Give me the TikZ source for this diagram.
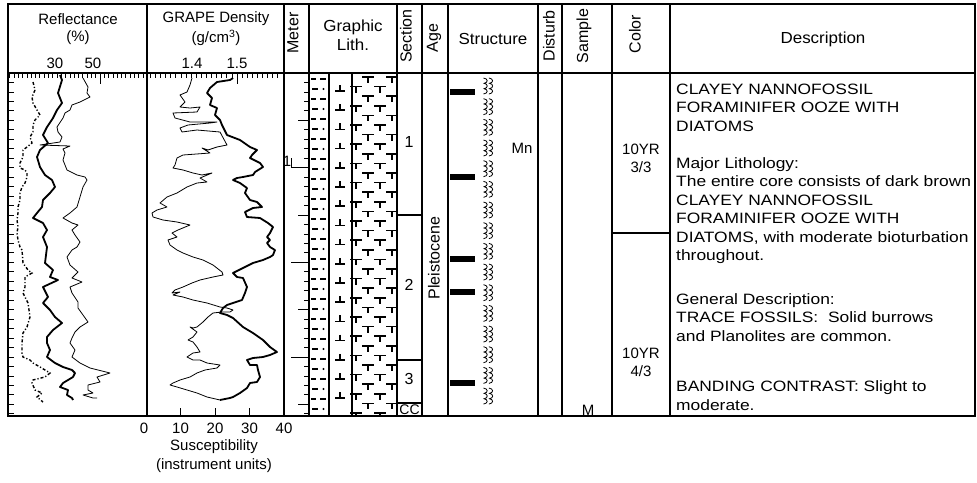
\documentclass[tikz,border=0pt]{standalone}
\usepackage{fontspec}
\setmainfont{Liberation Sans}
\newfontfamily\widefont{Liberation Sans}[FakeStretch=1.16]
\newfontfamily\hdfont{Liberation Sans}[FakeStretch=1.06]
\begin{document}
\begin{tikzpicture}[x=1pt,y=-1pt,
  txt/.style={inner sep=0pt, font=\fontsize{15}{18}\selectfont},
  hd/.style={inner sep=0pt, font=\hdfont\fontsize{16}{19}\selectfont},
  vhd/.style={inner sep=0pt, rotate=90, font=\fontsize{16}{19}\selectfont},
  desc/.style={inner sep=0pt, anchor=base west, font=\widefont\fontsize{15}{18}\selectfont},
  frame/.style={line width=1.1pt},
  hair/.style={line width=0.8pt},
  cthick/.style={line width=1.8pt, line join=round},
  cthin/.style={line width=0.8pt, line join=round},
  cdash/.style={line width=1.4pt, dash pattern=on 3pt off 2pt on 1.2pt off 2pt},
  tmark/.style={line width=1.5pt},
  biot/.pic={
    \foreach \dx in {-2.7,2.7}{
      \draw[line width=0.8pt] ({\dx-1.8},-8) .. controls ({\dx+3},-7.5) and ({\dx+3},-3.2) .. ({\dx-1.2},-2.7)
        .. controls ({\dx+3},-2.1) and ({\dx+3},2.1) .. ({\dx-1.2},2.7)
        .. controls ({\dx+3},3.2) and ({\dx+3},7.5) .. ({\dx-1.8},8);
    }
  }
]
\useasboundingbox (0,0) rectangle (977,482);
\fill[white] (0,0) rectangle (977,482);

% ---------- lithology pattern ----------
\begin{scope}
  \clip (309,73) rectangle (397,416);
  % clay dashes
  \foreach \k in {0,...,33}{
    \pgfmathsetmacro{\yy}{79+10*\k}
    \ifodd\k
      \draw[tmark] (312,\yy) -- (317.5,\yy);
      \fill (323.5,\yy) circle (1.1);
    \else
      \draw[tmark] (311,\yy) -- (316,\yy);
      \draw[tmark] (320,\yy) -- (326,\yy);
    \fi
  }
  % foraminifer T's
  \foreach \k in {0,...,35}{
    \pgfmathsetmacro{\yy}{77+9.6*\k}
    \ifodd\k
      \foreach \cx in {356,380}{\draw[tmark] (\cx-6,\yy) -- (\cx+6,\yy) (\cx,\yy) -- (\cx,\yy+6);}
    \else
      \foreach \cx in {368,392}{\draw[tmark] (\cx-6,\yy) -- (\cx+6,\yy) (\cx,\yy) -- (\cx,\yy+6);}
    \fi
  }
  % nannofossil inverted T's
  \foreach \k in {0,...,16}{
    \pgfmathsetmacro{\yy}{88+19.2*\k}
    \draw[tmark] (335,\yy+3) -- (345,\yy+3) (340,\yy-3) -- (340,\yy+3);
  }
\end{scope}
\draw[line width=1.2pt] (329,73) -- (329,416) (352,73) -- (352,416);

% ---------- frame ----------
\draw[frame] (8,4) rectangle (975,416);
\draw[frame] (8,73) -- (975,73);
\foreach \x in {147,284,309,397,422,448,538,562,612,670}{\draw[frame] (\x,4) -- (\x,416);}
\draw[frame] (397,215) -- (422,215) (397,360) -- (422,360) (397,403) -- (422,403);
\draw[frame] (612,233) -- (670,233);

% ---------- ticks ----------
\foreach \i in {-21,...,10}{\draw[hair] ({100+4.3*\i},73) -- ++(0,5);}
\draw[hair] (100,73) -- (100,84);
\foreach \i in {-7,...,19}{\draw[hair] ({186+5.1*\i},73) -- ++(0,5);}
\draw[hair] (237,73) -- (237,84);
\foreach \k in {1,...,36}{\draw[hair] (8,{73+9.467*\k}) -- ++(6,0);}
\foreach \k in {1,...,36}{\draw[hair] (304,{73+9.467*\k}) -- (309,{73+9.467*\k});}
\foreach \k in {5,15,25,35}{\draw[hair] (298,{73+9.467*\k}) -- (309,{73+9.467*\k});}
\foreach \k in {10,20,30}{\draw[hair] (291,{73+9.467*\k}) -- (309,{73+9.467*\k});}
\draw[hair] (291,158) -- (291,167.7);
\foreach \x in {180.5,215,249.5}{\draw[hair] (\x,408) -- (\x,416);}

% ---------- reflectance curves ----------
\draw[cdash] plot coordinates {(33,82) (35,90) (32,97) (33,103) (37,110) (40,115) (35,120) (33,125) (33,132) (30,137) (32,143) (27,147) (23,150) (23,157) (20,163) (20,168) (25,170) (27,173) (27,177) (25,183) (22,187) (20,193) (20,200) (18,207) (18,213) (17,220) (18,227) (17,233) (18,240) (20,247) (22,250) (23,263) (28,270) (32,273) (25,277) (25,287) (23,293) (28,303) (30,317) (27,327) (23,333) (22,343) (22,353) (23,357) (30,360) (33,363) (40,367) (45,370) (50,373) (45,377) (33,380) (32,383) (35,390) (42,393) (37,397) (43,402)};
\draw[cthick] plot coordinates {(60,75) (62,80) (58,93) (62,103) (57,110) (53,118) (47,127) (43,135) (48,143) (40,150) (37,157) (40,167) (45,175) (52,180) (55,187) (50,193) (43,200) (42,207) (37,213) (33,218) (43,223) (47,230) (43,237) (47,247) (45,263) (53,270) (50,277) (58,280) (43,287) (48,297) (43,303) (50,310) (55,317) (62,323) (53,330) (47,337) (47,343) (50,350) (47,357) (55,363) (63,367) (72,370) (75,373) (73,377) (63,383) (60,387) (68,390) (67,395) (72,398) (73,400)};
\draw[cthin] plot coordinates {(83,78) (88,87) (87,93) (90,97) (80,102) (72,105) (70,110) (65,113) (63,118) (57,127) (58,132) (62,137) (60,142) (40,145) (70,146) (63,149) (65,153) (63,160) (67,170) (77,175) (85,177) (87,180) (83,187) (80,197) (77,207) (70,213) (63,218) (72,223) (78,225) (72,230) (75,235) (80,242) (77,247) (72,250) (67,257) (70,265) (78,272) (72,278) (82,282) (70,287) (72,293) (78,302) (78,308) (83,315) (88,322) (80,327) (75,332) (72,338) (70,343) (75,350) (72,357) (80,363) (90,368) (110,373) (97,377) (100,382) (88,385) (88,390) (93,393) (83,395) (93,398) (97,398)};

% ---------- GRAPE / susceptibility curves ----------
\draw[cthin] plot coordinates {(192,78) (190,85) (187,92) (180,95) (185,102) (180,107) (190,108) (200,107) (197,112) (173,113) (175,118) (190,122) (217,122) (210,123) (188,125) (180,128) (182,132) (197,130) (220,132) (227,145) (217,147) (208,150) (202,148) (210,153) (183,155) (177,158) (175,165) (173,168) (183,170) (193,173) (202,175) (212,173) (200,178) (207,182) (197,183) (187,187) (177,193) (167,197) (160,203) (167,207) (157,210) (152,213) (153,217) (163,220) (177,222) (190,225) (178,230) (172,233) (177,237) (168,240) (170,245) (177,250) (183,253) (193,257) (203,260) (213,265) (222,272) (223,275) (213,277) (200,280) (192,283) (183,287) (175,290) (172,293) (180,292) (173,295) (183,297) (193,300) (207,303) (220,307) (227,308) (233,310) (230,312) (222,312) (213,313) (208,317) (203,322) (197,327) (193,328) (190,327) (197,332) (193,337) (188,340) (193,342) (197,347) (200,352) (193,353) (187,357) (193,360) (200,360) (207,363) (220,365) (217,368) (205,370) (197,373) (190,377) (180,380) (173,383) (170,385) (177,387) (187,390) (197,393) (207,397) (220,400)};
\draw[cthick] plot coordinates {(233,78) (230,80) (217,82) (210,88) (207,93) (212,98) (210,105) (217,108) (215,115) (220,120) (222,125) (227,135) (240,140) (250,147) (257,150) (252,155) (250,158) (260,163) (263,167) (255,172) (253,175) (243,177) (237,178) (233,180) (240,183) (247,188) (245,193) (250,200) (257,202) (262,207) (253,208) (245,212) (247,217) (260,218) (268,223) (273,227) (270,233) (267,237) (270,240) (267,243) (270,247) (275,250) (273,255) (270,257) (263,260) (253,263) (243,268) (233,273) (237,277) (243,278) (247,287) (245,293) (242,300) (233,303) (227,305) (223,308) (220,313) (227,315) (233,318) (243,327) (253,333) (263,340) (270,347) (277,352) (270,355) (263,357) (253,358) (247,360) (250,365) (257,365) (258,370) (260,377) (257,382) (250,383) (247,388) (240,393) (233,397) (230,398) (220,400)};

% ---------- structure ----------
\foreach \y in {92,177,259,292,383}{\fill (450,\y-3) rectangle (475,\y+3);}
\foreach \k in {0,...,15}{\pic at (488,{86+20.67*\k}) {biot};}

% ---------- header text ----------
\node[txt] (hrefl) at (78,19) {Reflectance};
\node[txt] (hpct) at (78,38) {(\%)};
\node[txt] (h30) at (55,63) {30};
\node[txt] (h50) at (93,63) {50};
\node[txt] (hgrape) at (216,19) {GRAPE Density};
\node[txt] (hunit) at (216,38) {(g/cm\textsuperscript{3})};
\node[txt] (h14) at (192,63) {1.4};
\node[txt] (h15) at (237,63) {1.5};
\node[vhd] (hmeter) at (293,33) {Meter};
\node[hd] (hgraph) at (353,27) {Graphic};
\node[hd] (hlith) at (353,45) {Lith.};
\node[vhd] (hsect) at (406,36) {Section};
\node[vhd] (hage) at (434,38) {Age};
\node[hd] (hstruct) at (493,39) {Structure};
\node[vhd] (hdist) at (549,36) {Disturb};
\node[vhd] (hsamp) at (584,36) {Sample};
\node[vhd] (hcol) at (635,34) {Color};
\node[hd] (hdesc) at (823,39) {Description};

% ---------- body text ----------
\node[txt] (m1) at (287,161) {1};
\node[txt,font=\fontsize{16}{19}\selectfont] (s1) at (409,142) {1};
\node[txt,font=\fontsize{16}{19}\selectfont] (s2) at (409,285) {2};
\node[txt,font=\fontsize{16}{19}\selectfont] (s3) at (409,379) {3};
\node[txt,font=\fontsize{14}{16}\selectfont] (scc) at (409.5,410) {CC};
\node[txt,rotate=90,font=\fontsize{16}{19}\selectfont] (age) at (434,258) {Pleistocene};
\node[txt] (mn) at (522,148) {Mn};
\node[txt] (samp) at (588,410) {M};
\node[txt,align=center] (c1) at (641,158) {10YR\\3/3};
\node[txt,align=center] (c2) at (641,362) {10YR\\4/3};

\node[desc] (d1) at (676,94) {CLAYEY NANNOFOSSIL};
\node[desc] (d2) at (676,112.5) {FORAMINIFER OOZE WITH};
\node[desc] (d3) at (676,131) {DIATOMS};
\node[desc] (d4) at (676,168) {Major Lithology:};
\node[desc] (d5) at (676,186.5) {The entire core consists of dark brown};
\node[desc] (d6) at (676,205) {CLAYEY NANNOFOSSIL};
\node[desc] (d7) at (676,223.5) {FORAMINIFER OOZE WITH};
\node[desc] (d8) at (676,242) {DIATOMS, with moderate bioturbation};
\node[desc] (d9) at (676,260.5) {throughout.};
\node[desc] (d10) at (676,304) {General Description:};
\node[desc] (d11) at (676,322.5) {TRACE FOSSILS:\ \ Solid burrows};
\node[desc] (d12) at (676,341) {and Planolites are common.};
\node[desc] (d13) at (676,391) {BANDING CONTRAST: Slight to};
\node[desc] (d14) at (676,410) {moderate.};

% ---------- susceptibility axis ----------
\node[txt] (x0) at (144,428) {0};
\node[txt] (x10) at (180.5,428) {10};
\node[txt] (x20) at (215,428) {20};
\node[txt] (x30) at (249.5,428) {30};
\node[txt] (x40) at (284,428) {40};
\node[txt] (sus) at (214,447) {Susceptibility};
\node[txt] (sunit) at (214,466) {(instrument units)};
\end{tikzpicture}
\end{document}
